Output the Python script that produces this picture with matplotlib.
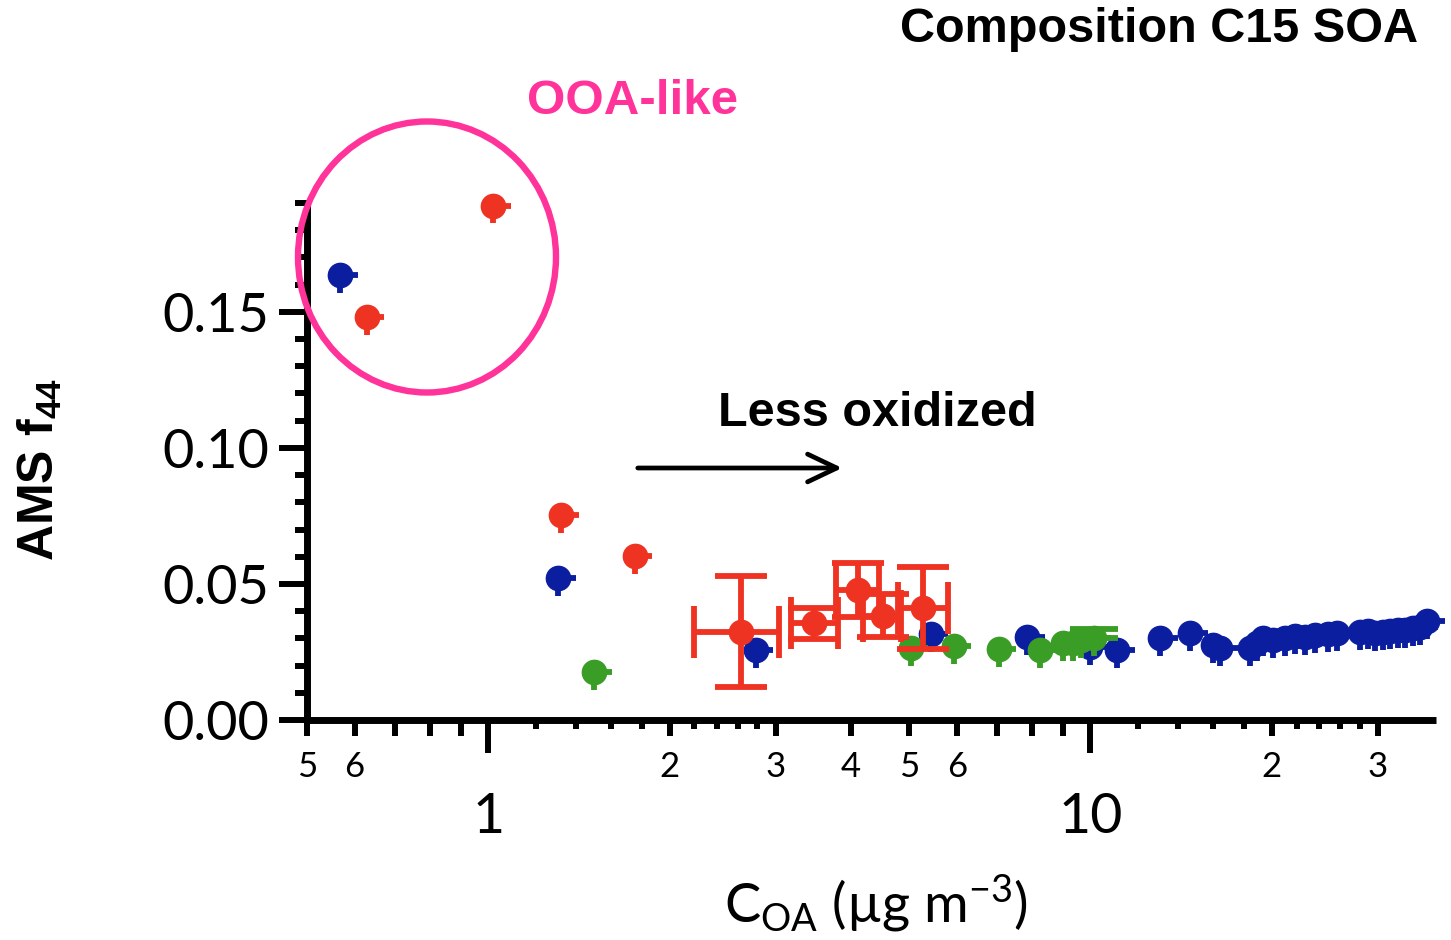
import numpy as np
import matplotlib
matplotlib.use("Agg")
import matplotlib.pyplot as plt
from matplotlib.ticker import FixedLocator, FixedFormatter, MultipleLocator, FuncFormatter
from matplotlib.patches import Ellipse, FancyArrowPatch

# ---------------- data ----------------
# red series: C_OA (ug m-3) and f44
red_x = [1.02, 0.628, 1.32, 1.75]
red_y = [0.189, 0.148, 0.0754, 0.0603]

# red series with measured uncertainty ranges
red_err_x = [2.63, 3.48, 4.12, 4.52, 5.27]
red_err_y = [0.0325, 0.0355, 0.0478, 0.0384, 0.0412]
red_err_xlo = [2.20, 3.18, 3.78, 4.19, 4.79]
red_err_xhi = [3.04, 3.81, 4.45, 4.84, 5.81]
red_err_dy = [0.0205, 0.0057, 0.0099, 0.0080, 0.0152]

# blue series
blue_x = [0.568, 1.306, 2.78, 5.43, 7.86, 10.0, 11.09, 13.07, 14.65, 16.0, 16.43,
          18.42, 18.92, 19.36, 20.11, 21.06, 21.88, 22.73, 23.61, 24.81, 25.68,
          28.04, 28.91, 29.70, 30.61, 31.44, 32.42, 33.31, 34.34, 35.27, 36.23]
blue_y = [0.1636, 0.0522, 0.0257, 0.0316, 0.0305, 0.0268, 0.0257, 0.0301, 0.0320, 0.0276, 0.0265,
          0.0265, 0.0283, 0.0301, 0.0294, 0.0301, 0.0309, 0.0305, 0.0313, 0.0316, 0.0320,
          0.0324, 0.0327, 0.0320, 0.0324, 0.0327, 0.0331, 0.0331, 0.0338, 0.0342, 0.0364]

# green series
green_x = [1.499, 5.03, 5.93, 7.04, 8.26, 8.99, 9.34, 9.63, 10.15]
green_y = [0.0176, 0.0265, 0.0272, 0.0261, 0.0257, 0.0283, 0.0283, 0.0294, 0.0300]
# upper uncertainty of the last green point
green_last_dy = 0.0035

# axis ticks
y_major = [0.00, 0.05, 0.10, 0.15]
x_major = [1, 10]
x_major_labels = ["1", "10"]
x_minor = [0.5, 0.6, 0.7, 0.8, 0.9, 2, 3, 4, 5, 6, 7, 8, 9, 20, 30]
x_minor_labels = {0.5: "5", 0.6: "6", 2: "2", 3: "3", 4: "4", 5: "5", 6: "6", 20: "2", 30: "3"}
x_short = [1.2, 1.4, 1.6, 1.8, 2.2, 2.4, 2.6, 2.8, 12, 14, 16, 18, 22, 24, 26, 28]

RED = "#ee3322"
BLUE = "#0c1ea0"
GREEN = "#3a9e26"
PINK = "#ff3399"

plt.rcParams["mathtext.fontset"] = "custom"
plt.rcParams["mathtext.rm"] = "Lato"
plt.rcParams["mathtext.bf"] = "Liberation Sans:bold"

# ---------------- figure ----------------
W, H = 1451, 940
fig = plt.figure(figsize=(W / 100, H / 100), dpi=100)
ax = fig.add_axes([307 / W, 1 - 720 / H, 1129 / W, 517 / H])

ax.set_xscale("log")
ax.set_xlim(0.5, 37.5)
ax.set_ylim(0.0, 0.19)

MS = 17.5
STUB_F = 1.07     # one-sided stub length (multiplicative, x)
STUB_DY = 0.0065  # one-sided stub length (y)
LW = 4.2


def stub_series(xs, ys, color, z=3):
    xs = np.asarray(xs, float)
    ys = np.asarray(ys, float)
    ax.errorbar(xs, ys,
                xerr=[np.zeros_like(xs), xs * (STUB_F - 1)],
                yerr=[np.full_like(ys, STUB_DY), np.zeros_like(ys)],
                fmt="o", color=color, ms=MS, mec=color, elinewidth=LW,
                capsize=0, zorder=z, clip_on=False)


stub_series(blue_x, blue_y, BLUE, z=3)
stub_series(green_x, green_y, GREEN, z=3.5)
ax.errorbar([green_x[-1]], [green_y[-1]], yerr=[[0], [green_last_dy]], fmt="none",
            ecolor=GREEN, elinewidth=LW, capsize=17, capthick=LW, zorder=3.4)
stub_series(red_x, red_y, RED, z=4)

rx = np.asarray(red_err_x)
ax.errorbar(rx, red_err_y,
            xerr=[rx - np.asarray(red_err_xlo), np.asarray(red_err_xhi) - rx],
            yerr=red_err_dy, fmt="o", color=RED, ms=MS, mec=RED,
            elinewidth=LW, capsize=19, capthick=LW, zorder=4)

# ---------------- axes styling ----------------
for s in ("top", "right"):
    ax.spines[s].set_visible(False)
for s in ("left", "bottom"):
    ax.spines[s].set_linewidth(5)
    ax.spines[s].set_capstyle("butt")

ax.yaxis.set_major_locator(FixedLocator(y_major))
ax.yaxis.set_major_formatter(FuncFormatter(lambda v, p: f"{v:.2f}"))
ax.yaxis.set_minor_locator(MultipleLocator(0.01))
ax.tick_params(axis="y", which="major", length=20, width=4.3, pad=7, labelsize=39)
ax.tick_params(axis="y", which="minor", length=9, width=4.3)

ax.xaxis.set_major_locator(FixedLocator(x_major))
ax.xaxis.set_major_formatter(FixedFormatter(x_major_labels))
ax.xaxis.set_minor_locator(FixedLocator(x_minor))
ax.xaxis.set_minor_formatter(FuncFormatter(lambda v, p: x_minor_labels.get(round(v, 3), "")))
ax.tick_params(axis="x", which="major", length=24, width=4.3, pad=28, labelsize=40)
ax.tick_params(axis="x", which="minor", length=11.5, width=4.3, pad=11, labelsize=25)
for lab in ax.get_xticklabels(which="both") + ax.get_yticklabels():
    lab.set_family("Lato")

# short intermediate ticks
for t in x_short:
    ax.plot([t, t], [0, -9 / 517], transform=ax.get_xaxis_transform(),
            color="black", lw=4.3, solid_capstyle="butt", clip_on=False)

# ---------------- labels & annotations ----------------
fig.text(40 / W, 1 - 470 / H, r"AMS f$_{\mathbf{44}}$", rotation=90,
         family="Liberation Sans", weight="bold", fontsize=36,
         ha="center", va="center")
fig.text(876 / W, 1 - 903 / H, r"C$_{\mathrm{OA}}$ (µg m$^{\mathrm{-3}}$)",
         family="Lato", fontsize=39, ha="center", va="center")

fig.text(1418 / W, 1 - 30 / H, "Composition C15 SOA", family="Liberation Sans",
         weight="bold", fontsize=35, ha="right", va="center")
fig.text(527 / W, 1 - 102 / H, "OOA-like", family="Liberation Sans",
         weight="bold", fontsize=35.5, color=PINK, ha="left", va="center")
fig.text(718 / W, 1 - 414 / H, "Less oxidized", family="Liberation Sans",
         weight="bold", fontsize=35, ha="left", va="center")

fig.add_artist(FancyArrowPatch((635 / W, 1 - 468 / H), (845 / W, 1 - 468 / H),
                               transform=fig.transFigure,
                               arrowstyle="->,head_length=1.05,head_width=0.5",
                               mutation_scale=20, lw=3.4, color="black"))

fig.add_artist(Ellipse((427 / W, 1 - 257 / H), 258 / W, 271 / H,
                       transform=fig.transFigure, fill=False,
                       edgecolor=PINK, lw=4.6))

fig.savefig("out.png", dpi=100)
